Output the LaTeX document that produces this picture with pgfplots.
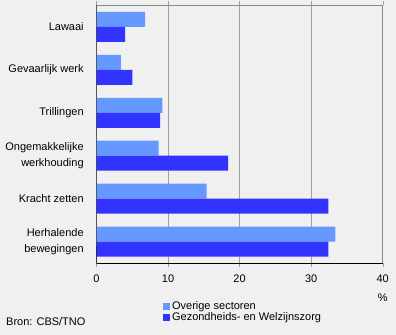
\documentclass[border=0pt]{standalone}
\usepackage{fontspec}
\setmainfont{Liberation Sans}
\usepackage{pgfplots}
\pgfplotsset{compat=1.18}
\definecolor{bg}{HTML}{F0F0F0}
\definecolor{lightbar}{HTML}{6699FF}
\definecolor{darkbar}{HTML}{3333FF}
\definecolor{gridc}{HTML}{A0A0A0}
\definecolor{framec}{HTML}{888888}
\begin{document}
\fontsize{11bp}{13bp}\selectfont
\begin{tikzpicture}[x=1bp,y=1bp]
\fill[bg] (0,0) rectangle (396,335);
\begin{axis}[
  at={(96.5bp,72bp)}, anchor=south west,
  scale only axis, width=286.2bp, height=257.5bp,
  xbar, bar width=15bp,
  xmin=0, xmax=40, ymin=-0.5, ymax=5.5,
  xtick={0,10,20,30,40},
  ytick={0,1,2,3,4,5},
  yticklabels={{Herhalende\\bewegingen},{Kracht zetten},{Ongemakkelijke\\werkhouding},Trillingen,{Gevaarlijk werk},Lawaai},
  yticklabel style={align=right, font=\fontsize{11bp}{15.5bp}\selectfont, xshift=-5bp},
  major y tick style={draw=none},
  xtick align=outside, major tick length=4bp,
  x tick style={color=gridc},
  xmajorgrids, grid style={color=gridc, line width=0.8bp},
  axis line style={draw=framec, line width=0.8bp},
  axis background/.style={fill=bg},
  /pgf/number format/assume math mode=true,
  ticklabel style={font=\fontsize{11bp}{13bp}\selectfont},
  xticklabel style={yshift=-3.5bp},
  xlabel={\%},
  xlabel style={at={(axis description cs:1,-0.12)}, anchor=north, inner sep=0pt},
  legend style={at={(axis description cs:0.232,-0.14)}, anchor=north west, draw=none, fill=none,
    font=\fontsize{11bp}{13bp}\selectfont, row sep=-2bp, inner sep=0pt,
    /tikz/every even column/.append style={column sep=1bp}},
  legend cell align=left,
  legend image code/.code={\fill[#1] (0bp,-3.5bp) rectangle (7bp,3.5bp);},
]
\addplot[fill=lightbar, draw=none, bar shift=7.5bp] coordinates {(33.4,0) (15.4,1) (8.7,2) (9.2,3) (3.4,4) (6.8,5)};
\addplot[fill=darkbar, draw=none, bar shift=-7.5bp] coordinates {(32.4,0) (32.4,1) (18.4,2) (8.9,3) (5.0,4) (4.0,5)};
\legend{Overige sectoren, Gezondheids- en Welzijnszorg}
\draw[black, line width=0.8bp] (rel axis cs:0,1) -- (rel axis cs:0,0) -- (rel axis cs:1,0);
\draw[black, line width=0.8bp] (rel axis cs:0,0) -- ++(0,-4bp);
\end{axis}
\node[anchor=west, inner sep=0pt] at (6,13) {Bron: CBS/TNO};
\end{tikzpicture}
\end{document}
